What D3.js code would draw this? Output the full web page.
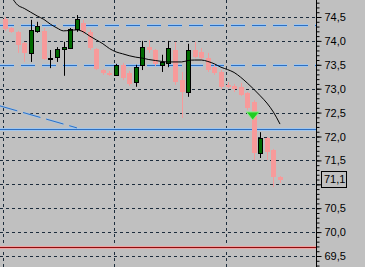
<!DOCTYPE html>
<html><head><meta charset="utf-8">
<script src="https://cdn.jsdelivr.net/npm/d3@7"></script>
<style>html,body{margin:0;padding:0;background:#c0c0c0;overflow:hidden}</style>
</head><body>
<svg id="c" width="365" height="267"></svg>
<script>
// candles: [open, high, low, close]
const candles = [
 [74.46,74.50,74.21,74.25],[74.27,74.29,74.17,74.19],[74.19,74.21,73.75,73.91],[73.96,73.98,73.56,73.75],
 [73.75,74.44,73.56,74.23],[74.21,74.40,74.17,74.31],[74.21,74.27,73.60,73.62],[73.63,73.81,73.43,73.65],
 [73.66,73.87,73.56,73.83],[73.83,73.98,73.27,73.87],[73.85,74.27,73.83,74.25],[74.25,74.54,74.19,74.46],
 [74.37,74.44,74.14,74.19],[74.19,74.23,73.81,73.85],[73.83,73.85,73.39,73.41],[73.39,73.41,73.29,73.33],
 [73.33,73.37,73.27,73.29],[73.29,73.52,73.27,73.50],[73.50,73.54,73.18,73.22],[73.33,73.37,73.06,73.10],
 [73.14,73.50,73.04,73.45],[73.50,74.00,73.39,73.87],[73.87,74.02,73.75,73.81],[73.81,73.83,73.47,73.52],
 [73.50,73.71,73.35,73.56],[73.54,74.00,73.45,73.85],[73.81,73.98,73.08,73.14],[73.18,73.35,72.39,72.93],
 [72.93,73.94,72.83,73.81],[73.81,73.98,73.64,73.66],[73.77,73.85,73.60,73.64],[73.64,73.75,73.35,73.39],
 [73.45,73.50,73.29,73.33],[73.35,73.39,72.99,73.04],[73.08,73.14,73.01,73.04],[73.06,73.10,72.93,72.99],
 [73.04,73.12,72.85,72.87],[72.91,72.93,72.55,72.60],[72.72,72.76,71.51,71.65],[71.65,72.09,71.55,71.97],
 [71.97,71.99,71.51,71.68],[71.72,71.74,70.94,71.15],[71.15,71.17,71.03,71.09]
];
const maValues = [75.04,74.92,74.75,74.68,74.60,74.52,74.45,74.35,74.27,74.21,74.22,74.23,74.19,74.10,74.02,73.94,
 73.84,73.77,73.73,73.69,73.66,73.64,73.61,73.59,73.57,73.56,73.56,73.56,73.59,73.60,73.60,73.57,73.52,73.45,
 73.40,73.34,73.24,73.12,72.99,72.85,72.70,72.51,72.26];
const majorTicks = [69.5,70.0,70.5,71.0,71.5,72.0,72.5,73.0,73.5,74.0,74.5];
const hiddenLabels = [71.0];
const minorTicks = d3.range(69.0,75.01,0.1).map(v=>+v.toFixed(1));
const vGridIdx = [-0.28,16.72,33.75];
const blueDashedLevels = [74.33,73.50];
const blueSolidLevel = 72.15;
const redLevel = 69.69;
const trendIdx = [-0.69,11.05];
const trendPrice = [72.64,72.18];
const arrowIdx = 38, arrowPrice = 72.43;
const lastPrice = 71.1;

const W=365,H=267,plotR=316;
const svg=d3.select('#c');
const x=d3.scaleLinear().domain([0,42]).range([4.5,280]);
const y=d3.scaleLinear().domain([69.5,74.5]).range([256,17]);
const fmt=v=>v.toFixed(1).replace('.',',');

svg.append('rect').attr('width',W).attr('height',H).attr('fill','#c0c0c0');
const grid='#1c2c3c';
svg.selectAll('.hg').data(majorTicks.filter(v=>!blueDashedLevels.includes(v))).enter().append('line')
 .attr('x1',0).attr('x2',plotR).attr('y1',d=>Math.round(y(d))+0.5).attr('y2',d=>Math.round(y(d))+0.5)
 .attr('stroke',grid).attr('stroke-dasharray','3,3');
svg.selectAll('.vg').data(vGridIdx).enter().append('line')
 .attr('x1',d=>Math.round(x(d))+0.5).attr('x2',d=>Math.round(x(d))+0.5).attr('y1',0).attr('y2',H)
 .attr('stroke',grid).attr('stroke-dasharray','3,3');

blueDashedLevels.forEach(v=>{
 const yy=Math.round(y(v))+0.5;
 svg.append('line').attr('x1',0).attr('x2',plotR).attr('y1',yy).attr('y2',yy)
  .attr('stroke','#9fc6ee').attr('stroke-width',3).attr('stroke-dasharray','14,7');
 svg.append('line').attr('x1',0).attr('x2',plotR).attr('y1',yy).attr('y2',yy)
  .attr('stroke','#2f6fc0').attr('stroke-width',1).attr('stroke-dasharray','14,7');
});
{const yy=Math.round(y(blueSolidLevel))+0.5;
 svg.append('line').attr('x1',0).attr('x2',plotR).attr('y1',yy).attr('y2',yy).attr('stroke','#9fc6ee').attr('stroke-width',3);
 svg.append('line').attr('x1',0).attr('x2',plotR).attr('y1',yy).attr('y2',yy).attr('stroke','#2f6fc0').attr('stroke-width',1);}
svg.append('line').attr('x1',x(trendIdx[0])).attr('x2',x(trendIdx[1])).attr('y1',y(trendPrice[0])).attr('y2',y(trendPrice[1]))
 .attr('stroke','#9fc6ee').attr('stroke-width',2).attr('stroke-dasharray','18,6');
svg.append('line').attr('x1',x(trendIdx[0])).attr('x2',x(trendIdx[1])).attr('y1',y(trendPrice[0])).attr('y2',y(trendPrice[1]))
 .attr('stroke','#2f6fc0').attr('stroke-width',1).attr('stroke-dasharray','18,6');
{const yy=Math.round(y(redLevel))+0.5;
 svg.append('line').attr('x1',0).attr('x2',plotR).attr('y1',yy).attr('y2',yy).attr('stroke','#f0a0a0').attr('stroke-width',3);
 svg.append('line').attr('x1',0).attr('x2',plotR).attr('y1',yy).attr('y2',yy).attr('stroke','#8b1010').attr('stroke-width',1);}

const pink='#f79a9a';
const g=svg.append('g');
candles.forEach((c,i)=>{
 const [o,h,l,cl]=c; const up=cl>=o; const cx=Math.round(x(i))+0.5;
 g.append('line').attr('x1',cx).attr('x2',cx).attr('y1',y(h)).attr('y2',y(l))
  .attr('stroke',up?'#000':pink).attr('stroke-width',1);
 const top=Math.round(y(Math.max(o,cl))), bot=Math.round(y(Math.min(o,cl)));
 if(up){
  g.append('rect').attr('x',cx-2).attr('y',top+0.5).attr('width',4).attr('height',Math.max(bot-top,1))
   .attr('fill','#006a00').attr('stroke','#000').attr('stroke-width',1);
 } else {
  g.append('rect').attr('x',cx-2.5).attr('y',top).attr('width',5).attr('height',Math.max(bot-top,1)).attr('fill',pink);
 }
});
svg.append('path').datum(maValues).attr('fill','none').attr('stroke','#000').attr('stroke-width',1)
 .attr('d',d3.line().x((d,i)=>x(i)).y(d=>y(d)).curve(d3.curveMonotoneX));
{const ax=x(arrowIdx)-1, ay=y(arrowPrice);
 svg.append('path').attr('d',`M${ax-6.5},${ay-4}L${ax+6.5},${ay-4}L${ax},${ay+4}Z`)
  .attr('fill','#22cc22').attr('stroke','#88ee88').attr('stroke-width',1);}

svg.append('line').attr('x1',plotR+0.5).attr('x2',plotR+0.5).attr('y1',0).attr('y2',H).attr('stroke','#000');
const minorAxis=d3.axisRight(y).tickValues(minorTicks).tickSize(3).tickFormat('');
const ma=svg.append('g').attr('transform',`translate(${plotR+0.5},0)`).call(minorAxis);
ma.select('.domain').remove();
const majorAxis=d3.axisRight(y).tickValues(majorTicks).tickSize(5).tickPadding(3)
 .tickFormat(v=>hiddenLabels.includes(v)?'':fmt(v));
const MA=svg.append('g').attr('transform',`translate(${plotR+0.5},0)`).call(majorAxis);
MA.select('.domain').remove();
svg.selectAll('.tick line').attr('stroke','#000');
MA.selectAll('text').attr('font-family','Liberation Sans, Arial, sans-serif').attr('font-size',11).attr('fill','#000');
{const yy=y(lastPrice);
 svg.append('rect').attr('x',321.5).attr('y',Math.round(yy)-8.5).attr('width',25).attr('height',16)
  .attr('fill','#c0c0c0').attr('stroke','#000');
 svg.append('text').attr('x',324).attr('y',yy).attr('dy','0.35em').text(fmt(lastPrice))
  .attr('font-family','Liberation Sans, Arial, sans-serif').attr('font-size',11).attr('fill','#000');}
</script>
</body></html>
